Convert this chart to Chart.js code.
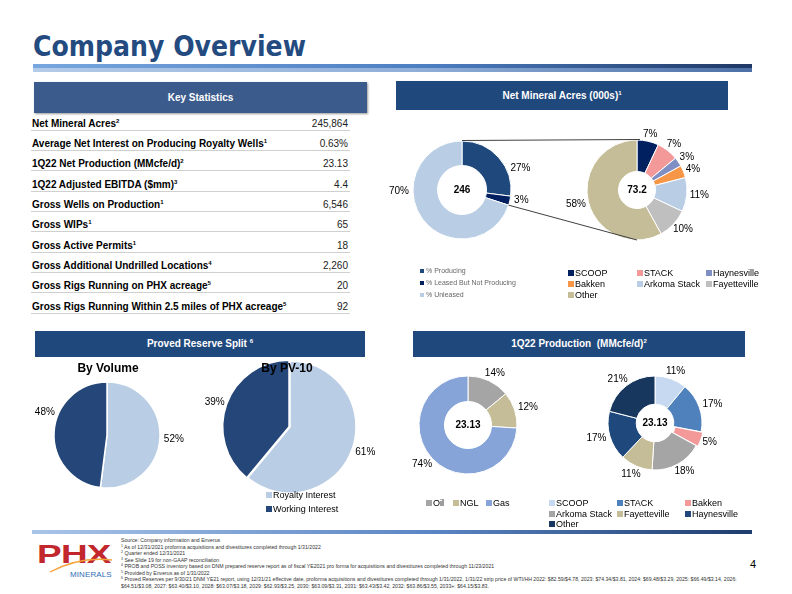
<!DOCTYPE html>
<html><head><meta charset="utf-8">
<script src="https://cdn.jsdelivr.net/npm/chart.js@4/dist/chart.umd.min.js"></script>
<style>
body{margin:0;width:792px;height:594px;position:relative;overflow:hidden;background:#fff;font-family:"Liberation Sans",Arial,sans-serif;color:#000;}
.abs{position:absolute;}
.hdr{position:absolute;color:#fff;font-weight:bold;font-size:10px;text-align:center;background:#1f497d;}
.hdr sup{font-size:6px;vertical-align:4px;line-height:0;}
canvas{position:absolute;z-index:1;}
.row{position:absolute;left:31px;width:317px;height:16px;border-bottom:1px solid #d0d0d0;padding-right:2px;}
.row .l{position:absolute;left:1px;top:4px;font-weight:bold;font-size:10px;line-height:12px;white-space:nowrap;}
.row .v{position:absolute;right:2px;top:4px;font-size:10px;line-height:12px;color:#222;}
.row sup{font-size:6px;vertical-align:4px;line-height:0;}
.lg{position:absolute;white-space:nowrap;font-size:9px;line-height:10px;color:#000;z-index:3;}
.lg i{position:absolute;top:2px;left:-7px;width:6px;height:6px;}
.sub{position:absolute;z-index:3;width:100px;text-align:center;font-weight:bold;font-size:12px;}
.foot{position:absolute;left:121px;top:537px;width:616px;font-size:5.2px;line-height:6.5px;color:#333;}
.foot sup{font-size:3.5px;vertical-align:2px;line-height:0;}
</style></head><body>
<div id="root"></div>
<script>
// ---------- data ----------
const statLabels = ["Net Mineral Acres","Average Net Interest on Producing Royalty Wells","1Q22 Net Production (MMcfe/d)","1Q22 Adjusted EBITDA ($mm)","Gross Wells on Production","Gross WIPs","Gross Active Permits","Gross Additional Undrilled Locations","Gross Rigs Running on PHX acreage","Gross Rigs Running Within 2.5 miles of  PHX acreage"];
const statNotes = ["2","1","2","3","1","1","1","4","5","5"];
const statValues = ["245,864","0.63%","23.13","4.4","6,546","65","18","2,260","20","92"];

const acreLabels = ["% Producing","% Leased But Not Producing","% Unleased"];
const acreShares = [27,3,70];
const acreTotal = "246";

const leasedBasins = ["SCOOP","STACK","Haynesville","Bakken","Arkoma Stack","Fayetteville","Other"];
const leasedShares = [7,7,3,4,11,10,58];
const leasedTotal = "73.2";

const reserveLabels = ["Royalty Interest","Working Interest"];
const reserveVolume = [52,48];
const reservePV10 = [61,39];

const productLabels = ["Oil","NGL","Gas"];
const productShares = [14,12,74];
const productionTotal = "23.13";

const prodBasins = ["SCOOP","STACK","Bakken","Arkoma Stack","Fayetteville","Haynesville","Other"];
const prodBasinShares = [11,17,5,18,11,17,21];

const footnotes = [
 "Source: Company information and Enverus",
 "<sup>1</sup> As of 12/31/2021 proforma acquisitions and divestitures completed through 1/31/2022",
 "<sup>2</sup> Quarter ended 12/31/2021",
 "<sup>3</sup> See Slide 19 for non-GAAP reconciliation",
 "<sup>4</sup> PROB and POSS inventory based on DNM prepared reserve report as of fiscal YE2021 pro forma for acquisitions and divestitures completed through 11/23/2021",
 "<sup>5</sup> Provided by Enverus as of 1/31/2022",
 "<sup>6</sup> Proved Reserves per 9/30/21 DNM YE21 report, using 12/31/21 effective date, proforma acquisitions and divestitures completed through 1/31/2022, 1/31/22 strip price of WTI/HH 2022: $82.59/$4.78, 2023: $74.34/$3.81, 2024: $69.48/$3.29, 2025: $66.49/$3.14, 2026: $64.51/$3.08, 2027: $63.40/$3.10, 2028: $63.07/$3.18, 2029: $62.93/$3.25, 2030: $63.09/$3.31, 2031: $63.43/$3.42, 2032: $63.86/$3.55, 2033+: $64.15/$3.83."
];

// ---------- styles ----------
const acreColors = ["#1f497d","#002060","#b9cde5"];
const leasedColors = ["#002060","#f4999a","#7f8fc4","#f79646","#b9cde5","#bfbfbf","#c4bd97"];
const reserveColors = ["#b9cde5","#254678"];
const productColors = ["#a5a5a5","#c4bd97","#86a4d8"];
const prodBasinColors = ["#c6d9f1","#4f81bd","#f4999a","#a5a5a5","#c4bd97","#1f497d","#17375e"];

const root = document.getElementById('root');
function add(html){ root.insertAdjacentHTML('beforeend', html); }

// title & bars
add('<div class="abs" style="left:33px;top:32px;font-family:\'DejaVu Sans Condensed\',\'DejaVu Sans\';font-weight:bold;font-size:28px;line-height:29px;color:#244b7f;white-space:nowrap;">Company Overview</div>');
add('<div class="abs" style="left:33px;top:64px;width:719px;height:4px;background:linear-gradient(90deg,#78a6de,#4d7ec2 55%,#1f3864);"></div>');
add('<div class="abs" style="left:33px;top:68px;width:719px;height:4px;background:linear-gradient(90deg,#b4cbe9,#8eaed8 55%,#4c6fa6);"></div>');
add('<div class="abs" style="left:32px;top:530px;width:720px;height:4px;background:linear-gradient(90deg,#a9c4e8,#5b86c5 55%,#1f3d6e);"></div>');

// headers
add('<div class="hdr" style="left:34px;top:82px;width:333px;height:31px;line-height:31px;background:#3b5b8c;box-shadow:1px 1px 2px #999;">Key Statistics</div>');
add('<div class="hdr" style="left:396px;top:81px;width:332px;height:29px;line-height:29px;">Net Mineral Acres (000s)<sup>1</sup></div>');
add('<div class="hdr" style="left:35px;top:331px;width:330px;height:26px;line-height:25px;">Proved Reserve Split <sup>6</sup></div>');
add('<div class="hdr" style="left:413px;top:331px;width:332px;height:26px;line-height:25px;">1Q22 Production&nbsp; (MMcfe/d)<sup>2</sup></div>');

// table
statLabels.forEach((l,i)=>{
  add('<div class="row" style="top:'+(113.5+20.35*i)+'px"><span class="l">'+l+'<sup>'+statNotes[i]+'</sup></span><span class="v">'+statValues[i]+'</span></div>');
});

// sub titles
add('<div class="sub" style="left:58px;top:361px;">By Volume</div>');
add('<div class="sub" style="left:237px;top:361px;">By PV-10</div>');

// legends
function legend(labels, colors, xs, ys, cls){
  labels.forEach((l,i)=>{
    add('<div class="lg" style="left:'+xs[i]+'px;top:'+(ys[i]-5)+'px;'+(cls||'')+'"><i style="background:'+colors[i]+'"></i>'+l+'</div>');
  });
}
legend(acreLabels, acreColors, [426,426,426],[271,283,295],'font-size:7px;color:#666;');
legend(leasedBasins, leasedColors, [575,644,713,575,644,713,575],[273,273,273,284,284,284,295]);
legend(reserveLabels, reserveColors, [273,273],[495,509]);
legend(productLabels, productColors, [433,460,493],[503,503,503]);
legend(prodBasins, prodBasinColors, [556,624,692,556,624,692,556],[503,503,503,514,514,514,524]);
document.querySelectorAll('.lg').forEach((d,i)=>{ if(i<3){ const s=d.querySelector('i'); s.style.width='3.5px'; s.style.height='3.5px'; s.style.left='-6px'; s.style.top='3px'; }});

// footnotes, page number, logo
add('<div class="foot">'+footnotes.join('<br>')+'</div>');
add('<div class="abs" style="left:750px;top:558px;font-size:11px;color:#000;">4</div>');
add('<div class="abs" style="left:37px;top:540px;font-weight:bold;font-size:26px;line-height:28px;color:#c1272d;transform:scaleX(1.42);transform-origin:left top;letter-spacing:-0.5px;">PHX</div>');
add('<svg class="abs" style="left:0;top:0" width="792" height="594"><path d="M50 572 Q80 556 112 560" stroke="#f3a33a" stroke-width="1.4" fill="none"/></svg>');
add('<div class="abs" style="left:70px;top:570px;font-size:8px;line-height:9px;color:#2f6db5;letter-spacing:0.1px;">MINERALS</div>');

// ---------- charts ----------
const pctLabels = {
  id:'pctLabels',
  afterDatasetsDraw(chart, args, opts){
    const ctx = chart.ctx;
    const meta = chart.getDatasetMeta(0);
    const data = chart.data.datasets[0].data;
    ctx.save();
    ctx.font = '10px "Liberation Sans", Arial';
    ctx.fillStyle = '#000';
    ctx.textAlign='center'; ctx.textBaseline='middle';
    meta.data.forEach((arc,i)=>{
      const p = arc.getProps(['x','y','startAngle','endAngle','outerRadius'],true);
      let a = (p.startAngle+p.endAngle)/2;
      if (opts.angles && opts.angles[i]!=null) a = opts.angles[i]*Math.PI/180 - Math.PI/2;
      const txt = data[i]+'%';
      const w = ctx.measureText(txt).width, h = 9;
      const r = p.outerRadius + (opts.pad!=null?opts.pad:4);
      const c = Math.cos(a), s = Math.sin(a);
      ctx.fillText(txt, p.x + r*c + c*w/2, p.y + r*s + s*h/2);
    });
    if (opts.center){
      ctx.font = 'bold 10px "Liberation Sans", Arial';
      ctx.fillText(opts.center, meta.data[0].x, meta.data[0].y+0.5);
    }
    ctx.restore();
  }
};

function makeChart(type, cx, cy, R, data, colors, labels, opt){
  opt = opt || {};
  const ext = 45;
  const c = document.createElement('canvas');
  const size = 2*(R+ext);
  c.width = size; c.height = size;
  c.style.left = (cx-R-ext)+'px'; c.style.top = (cy-R-ext)+'px';
  c.style.width = size+'px'; c.style.height = size+'px';
  document.body.appendChild(c);
  const bw = opt.bw || 1;
  const maxOff = opt.offset ? Math.max(...opt.offset) : 0;
  const pad = ext - (bw + maxOff)/2;
  const ch = new Chart(c, {
    type: type,
    data: { labels: labels, datasets: [{ data: data, backgroundColor: colors, borderColor:'#fff', borderWidth: bw, offset: opt.offset || 0 }] },
    options: {
      responsive:false, animation:false, devicePixelRatio:1,
      cutout: opt.cutout || 0,
      layout:{ padding: pad },
      plugins:{ legend:{display:false}, tooltip:{enabled:false},
        pctLabels:{ angles: opt.angles, center: opt.center, pad: opt.pad } }
    },
    plugins:[pctLabels]
  });
  ch._ox = cx-R-ext; ch._oy = cy-R-ext;
  return ch;
}

const acreChart = makeChart('doughnut', 462, 190, 49, acreShares, acreColors, acreLabels, {cutout:'50%', center:acreTotal, angles:[68,100,269], pad:4});
const leasedChart = makeChart('doughnut', 637, 190, 50, leasedShares, leasedColors, leasedBasins, {cutout:'37%', center:leasedTotal, pad:3});
makeChart('pie', 107, 435, 53, reserveVolume, reserveColors, reserveLabels, {bw:1.5, angles:[null,292], pad:4});
makeChart('pie', 290, 427, 66, reservePV10, reserveColors, reserveLabels, {bw:1.5, offset:[0,4], pad:4});
makeChart('doughnut', 468, 425, 49, productShares, productColors, productLabels, {cutout:'48%', center:productionTotal, pad:4});
makeChart('doughnut', 655, 423, 47, prodBasinShares, prodBasinColors, prodBasins, {cutout:'40%', center:productionTotal, offset:[0,0,4,0,0,0,0], pad:4});

// connector lines between the two acreage doughnuts
(function(){
  const a = acreChart.getDatasetMeta(0).data, b = leasedChart.getDatasetMeta(0).data;
  const A0 = a[0].getProps(['x','y','startAngle','outerRadius'],true);
  const A1 = a[1].getProps(['x','y','endAngle','outerRadius'],true);
  const B0 = b[0].getProps(['x','y','outerRadius'],true);
  const p1 = [acreChart._ox + A0.x + A0.outerRadius*Math.cos(A0.startAngle), acreChart._oy + A0.y + A0.outerRadius*Math.sin(A0.startAngle)];
  const p2 = [leasedChart._ox + B0.x, leasedChart._oy + B0.y - B0.outerRadius];
  const p3 = [acreChart._ox + A1.x + A1.outerRadius*Math.cos(A1.endAngle), acreChart._oy + A1.y + A1.outerRadius*Math.sin(A1.endAngle)];
  const p4 = [leasedChart._ox + B0.x, leasedChart._oy + B0.y + B0.outerRadius];
  add('<svg class="abs" style="left:0;top:0;z-index:5" width="792" height="594"><line x1="'+p1[0]+'" y1="'+(p1[1]-0.5)+'" x2="'+(p2[0]+3)+'" y2="'+(p2[1]-0.5)+'" stroke="#404040" stroke-width="1"/><line x1="'+p3[0]+'" y1="'+p3[1]+'" x2="'+p4[0]+'" y2="'+p4[1]+'" stroke="#404040" stroke-width="1"/></svg>');
})();
</script>
</body></html>
